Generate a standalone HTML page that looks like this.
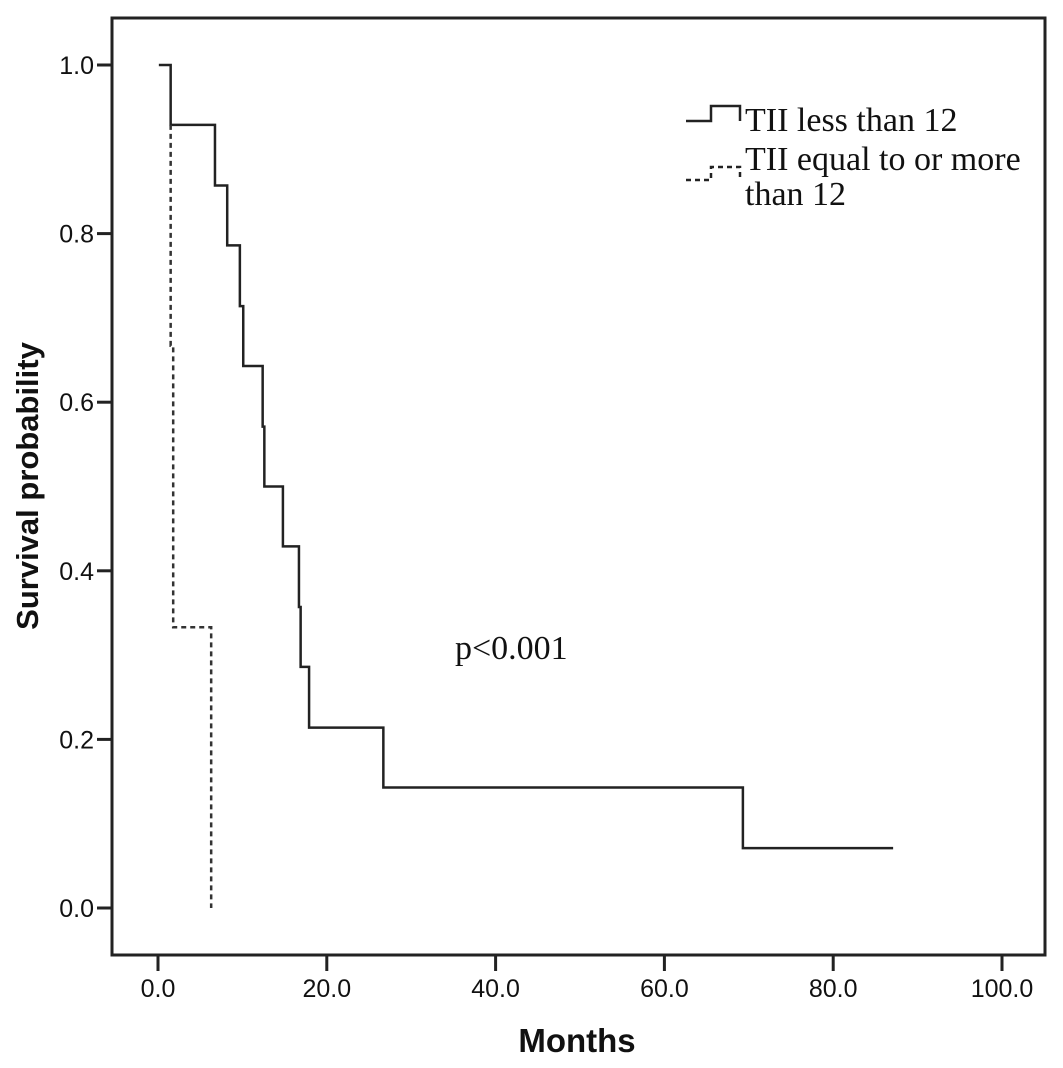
<!DOCTYPE html>
<html><head><meta charset="utf-8"><style>
body{margin:0;background:#fff;}
svg{display:block;}
</style></head><body>
<svg id="chart" width="1063" height="1068" viewBox="0 0 1063 1068">
<rect x="112" y="18" width="933" height="937" fill="none" stroke="#222" stroke-width="3"/>
<g id="axes"></g>
<g id="series"></g>
<text x="38" y="486" transform="rotate(-90 38 486)" text-anchor="middle" font-family="Liberation Sans, sans-serif" font-weight="bold" font-size="31" fill="#111">Survival probability</text>
<text x="577" y="1052" text-anchor="middle" font-family="Liberation Sans, sans-serif" font-weight="bold" font-size="33" fill="#111">Months</text>
<text x="455" y="659" font-family="Liberation Serif, serif" font-size="34" fill="#111">p&lt;0.001</text>
<g font-family="Liberation Serif, serif" font-size="34" fill="#111">
<path d="M686 121 H711 V106 H740 V121" fill="none" stroke="#222" stroke-width="2.5"/>
<text x="745" y="131">TII less than 12</text>
<path d="M686 180 H711 V167 H740 V180" fill="none" stroke="#222" stroke-width="2.5" stroke-dasharray="5,4"/>
<text x="745" y="170">TII equal to or more</text>
<text x="745" y="205">than 12</text>
</g>
</svg>
<script>
const xTicks=[0,20,40,60,80,100];
const xTickLabels=["0.0","20.0","40.0","60.0","80.0","100.0"];
const yTicks=[0,0.2,0.4,0.6,0.8,1.0];
const yTickLabels=["0.0","0.2","0.4","0.6","0.8","1.0"];
const lowTimes=[0.1,1.5,6.75,8.2,9.7,10.1,12.4,12.6,14.8,16.7,16.9,17.9,26.7,69.3,87.1];
const lowSurv=[1.0,0.929,0.857,0.786,0.714,0.643,0.571,0.5,0.429,0.357,0.286,0.214,0.143,0.071,0.071];
const highTimes=[1.5,1.8,6.3];
const highSurv=[0.667,0.333,0.0];
const highStart=[1.5,0.929];
const X=v=>158+v*8.44;
const Y=v=>908-v*843;
const NS="http://www.w3.org/2000/svg";
const axes=document.getElementById('axes'),series=document.getElementById('series');
function mk(tag,attrs,parent){const e=document.createElementNS(NS,tag);for(const k in attrs)e.setAttribute(k,attrs[k]);parent.appendChild(e);return e;}
const tickFont={'font-family':'Liberation Sans, sans-serif','font-size':25,fill:'#111'};
xTicks.forEach((t,i)=>{
 const l=mk('line',{x1:X(t),x2:X(t),y1:955,y2:971,stroke:'#222','stroke-width':3},axes);
 
 
 const tx=mk('text',Object.assign({x:X(t),y:997,'text-anchor':'middle'},tickFont),axes);tx.textContent=xTickLabels[i];
 
 
});
yTicks.forEach((t,i)=>{
 const l=mk('line',{x1:97,x2:112,y1:Y(t),y2:Y(t),stroke:'#222','stroke-width':3},axes);
 
 
 const tx=mk('text',Object.assign({x:94,y:Y(t)+9,'text-anchor':'end'},tickFont),axes);tx.textContent=yTickLabels[i];
 
 
});
let d='M'+X(lowTimes[0])+' '+Y(lowSurv[0]);
for(let i=1;i<lowTimes.length;i++){d+=' H'+X(lowTimes[i])+' V'+Y(lowSurv[i]);}
const p1=mk('path',{d:d,fill:'none',stroke:'#222','stroke-width':2.5},series);


let d2='M'+X(highStart[0])+' '+Y(highStart[1]);
for(let i=0;i<highTimes.length;i++){d2+=' H'+X(highTimes[i])+' V'+Y(highSurv[i]);}
const p2=mk('path',{d:d2,fill:'none',stroke:'#333','stroke-width':2.5,'stroke-dasharray':'5,4'},series);


</script>
</body></html>
